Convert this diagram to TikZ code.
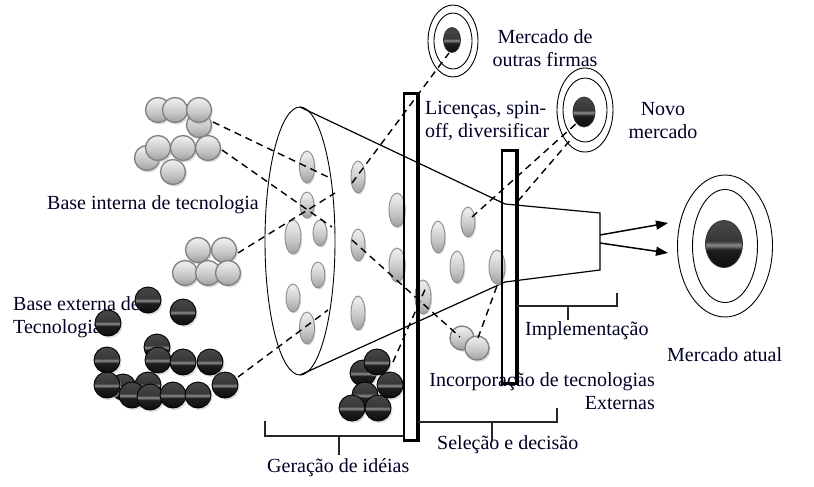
\documentclass[tikz,border=0pt]{standalone}
\usepackage{fontspec}
\setmainfont{Liberation Serif}
\usetikzlibrary{arrows.meta}
\pgfdeclareverticalshading{darkball}{100bp}{color(0bp)=(black!95); color(25bp)=(black!95); color(44bp)=(black!88); color(49bp)=(black!45); color(53bp)=(black!78); color(75bp)=(black!72); color(100bp)=(black!72)}
\pgfdeclareverticalshading{greyball}{100bp}{color(0bp)=(black!38); color(25bp)=(black!38); color(45bp)=(black!22); color(70bp)=(black!8); color(75bp)=(black!10); color(100bp)=(black!10)}
\begin{document}
\begin{tikzpicture}[x=1pt,y=-1pt,
  lbl/.style={font=\fontsize{20}{23}\selectfont, inner sep=0pt, text=black!85!blue},
  gsph/.style={draw=black!50, line width=1.3pt, shading=greyball},
  dsph/.style={draw=black, line width=0.9pt, shading=darkball},
  shad/.style={fill=gray!50, opacity=0.55},
  gell/.style={draw=black!45, line width=0.9pt, shading=greyball},
  dashlink/.style={dash pattern=on 7pt off 5pt, line width=1.4pt},
  ring/.style={draw=black, line width=0.9pt},
  core/.style={draw=black!80, line width=0.8pt, shading=darkball},
  bracket/.style={line width=1.3pt, black!85},
  barthin/.style={line width=1.5pt},
  barthick/.style={line width=3.5pt},
  arr/.style={line width=1.5pt, -{Triangle[length=12pt,width=9pt]}}
]
\useasboundingbox (0,0) rectangle (814,487);

% ---------- labels (drawn first, shapes overlap them) ----------
\node[lbl, align=center] (tmof) at (545,48) {Mercado de\\outras firmas};
\node[lbl, align=left, anchor=west] (tlic) at (425,121) {Licenças, spin-\\off, diversificar};
\node[lbl, align=center] (tnovo) at (663,121) {Novo\\mercado};
\node[lbl, anchor=west] (tint) at (47,205) {Base interna de tecnologia};
\node[lbl, align=left, anchor=west] (text) at (13,317) {Base externa de\\Tecnologia};
\node[lbl, anchor=west] (timp) at (525,331) {Implementação};
\node[lbl, anchor=west] (tatu) at (667,355) {Mercado atual};
\node[lbl, align=right, anchor=east] (tinc) at (655,391) {Incorporação de tecnologias\\Externas};
\node[lbl, anchor=west] (tsel) at (437,445) {Seleção e decisão};
\node[lbl, anchor=west] (tger) at (267,468) {Geração de idéias};

% ---------- funnel ----------
\draw[line width=0.9pt] (300,241) ellipse [x radius=35, y radius=134];
\coordinate (ctop) at (300,107);
\coordinate (cbot) at (300,375);
\draw[line width=1.2pt] (ctop) -- (505,204) -- (600,213) -- (600,270) -- (505,282) -- (cbot);

% ---------- ellipses inside funnel ----------
\foreach \x/\y/\a/\b in {307/167/7.5/16, 307/205/7/13, 293/237/8/17, 320/233/7/13,
  318/275/7/13, 293/298/7/14, 307/328/7.5/16, 358/177/7/16, 358/245/7/16, 358/313/7/17,
  397/210/8/17, 397/265/8/17, 423/297/8/17, 438/237/7/16, 457/267/7/16, 468/222/7/15,
  497/267/8/17}
  {\fill[shad] (\x+1.2,\y+1.5) ellipse [x radius=\a, y radius=\b];
   \path[gell] (\x,\y) ellipse [x radius=\a, y radius=\b];}

% ---------- internal base (grey spheres) ----------
\foreach \x/\y in {199/125, 147/158, 173/172, 158/110, 175/110, 199/110, 158/148, 183/148, 208/148,
  198/250, 224/250, 185/273, 208/273, 228/273}
  {\fill[shad] (\x+1.5,\y+2) circle[radius=12.5];
   \path[gsph] (\x,\y) circle[radius=12.5];}

% light pair
\foreach \x/\y in {462/338, 477/348}
  {\fill[shad] (\x+1.5,\y+2) circle[radius=12];
   \path[gsph] (\x,\y) circle[radius=12];}

% ---------- external base (dark spheres) ----------
\foreach \x/\y in {148/300, 108/323, 183/312, 157/347, 107/360, 158/360, 183/362, 210/362,
  148/385, 123/387, 107/385, 132/395, 150/397, 173/395, 198/395, 225/385,
  363/373, 377/362, 390/385, 365/395, 352/408, 378/408}
  {\fill[shad] (\x+1.5,\y+2) circle[radius=13];
   \path[dsph] (\x,\y) circle[radius=13];}

% ---------- targets ----------
\draw[ring] (453,41) ellipse [x radius=25, y radius=36];
\draw[ring] (453,41) ellipse [x radius=19, y radius=28];
\path[core] (452,40) ellipse [x radius=8.5, y radius=12.5];

\draw[ring] (585,110) ellipse [x radius=28, y radius=42];
\draw[ring] (585,110) ellipse [x radius=22, y radius=32];
\path[core] (584,112) ellipse [x radius=11, y radius=15];

\draw[ring] (725,246) ellipse [x radius=47.5, y radius=71];
\draw[ring] (725,246) ellipse [x radius=32.5, y radius=56.5];
\path[core] (724,244) ellipse [x radius=18.5, y radius=23.5];

% ---------- dashed links ----------
\coordinate (a1) at (213,122); \coordinate (b1) at (328,177);
\coordinate (a2) at (222,150); \coordinate (b2) at (332,227);
\coordinate (a3) at (238,253); \coordinate (b3) at (335,193);
\coordinate (a4) at (238,377); \coordinate (b4) at (328,310);
\coordinate (a5) at (352,183); \coordinate (b5) at (449,53);
\coordinate (a6) at (472,217); \coordinate (b6) at (578,122);
\coordinate (a7) at (518,201); \coordinate (b7) at (572,138);
\coordinate (a8) at (352,240); \coordinate (b8) at (460,337);
\coordinate (a9) at (478,338); \coordinate (b9) at (498,283);
\coordinate (a10) at (393,362); \coordinate (b10) at (427,285);
\foreach \i in {1,...,10} \draw[dashlink] (a\i) -- (b\i);

% ---------- bars ----------
\draw[barthin] (404,93) rectangle (418,440);
\draw[barthick] (418,91.5) -- (418,441.5);
\draw[line width=3pt] (402.5,93) -- (419.5,93);
\draw[line width=3pt] (402.5,440) -- (419.5,440);

\draw[barthin] (502,150) rectangle (517,383);
\draw[barthick] (517,148.5) -- (517,384.5);
\draw[line width=3pt] (500.5,150) -- (518.5,150);
\draw[line width=3pt] (500.5,383) -- (518.5,383);

% ---------- brackets ----------
\draw[bracket] (265,421) -- (265,436) -- (404,436);
\draw[bracket] (339,436) -- (339,455);
\draw[bracket] (418,422) -- (557,422) -- (557,408);
\draw[bracket] (492,422) -- (492,442);
\draw[bracket] (517,306) -- (617,306) -- (617,293);
\draw[bracket] (568,306) -- (568,320);

% ---------- arrows ----------
\coordinate (s1) at (600,235); \coordinate (e1) at (668,223);
\coordinate (s2) at (600,243); \coordinate (e2) at (668,253);
\draw[arr] (s1) -- (e1);
\draw[arr] (s2) -- (e2);
\end{tikzpicture}
\end{document}
